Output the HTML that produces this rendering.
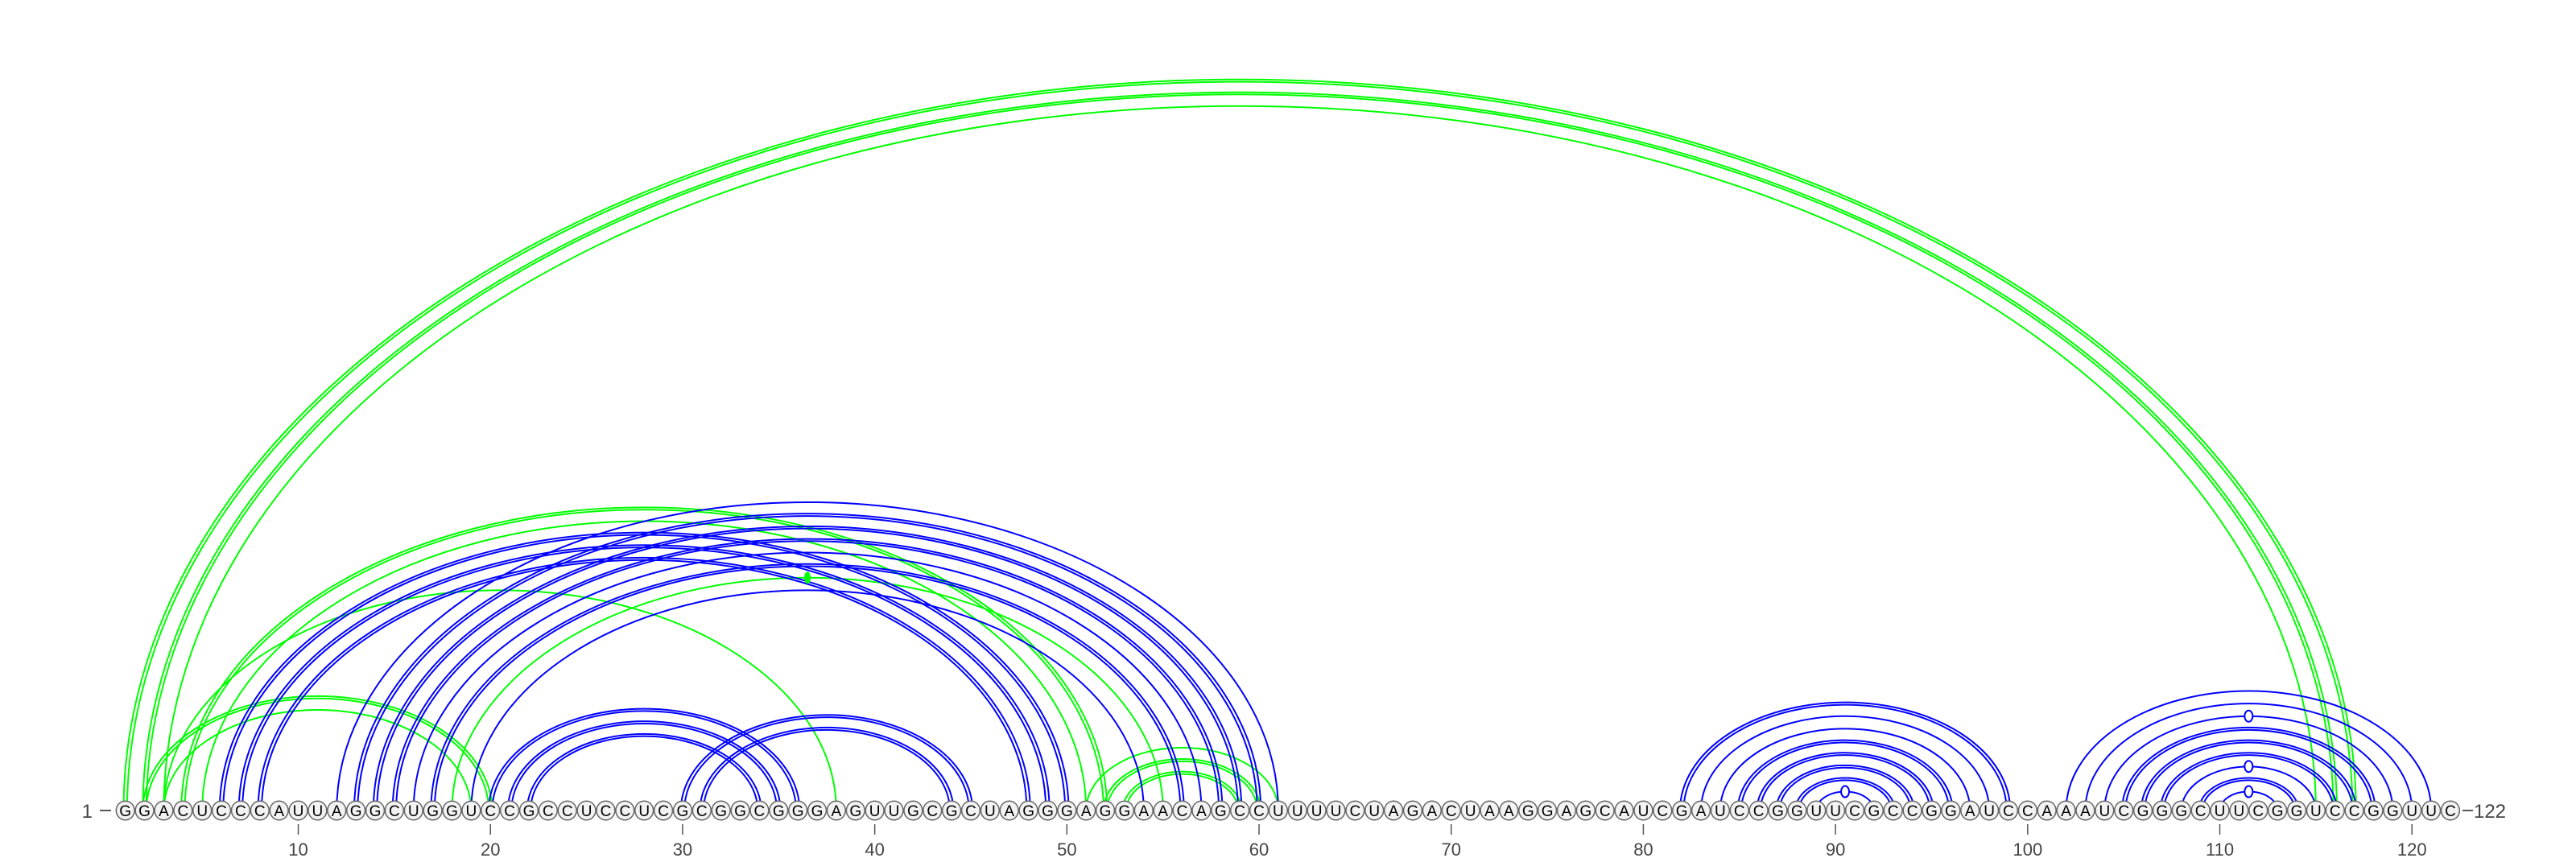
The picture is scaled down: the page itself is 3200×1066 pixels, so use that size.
<!DOCTYPE html>
<html><head><meta charset="utf-8">
<style>
html,body{margin:0;padding:0;background:#fff;}
svg{display:block;}
text{font-family:"Liberation Sans","DejaVu Sans",sans-serif;}
</style></head>
<body>
<svg id="chart" width="3200" height="1066" viewBox="0 0 3200 1066" xmlns="http://www.w3.org/2000/svg">
<g id="arcs"></g>
<g id="markers"></g>
<g id="nts"></g>
<g id="axis"></g>
</svg>
<script>
const sequence = "GGACUCCCAUUAGGCUGGUCCGCCUCCUCGCGGCGGGAGUUGCGCUAGGGAGGAACAGCCUUUUCUAGACUAAGGAGCAUCGAUCCGGUUCGCCGGAUCCAAAUCGGGCUUCGGUCCGGUUC";
// blue structure pairs
const blueI = [6,7,8,12,13,14,15,16,17,19,20,21,22,30,31,82,83,84,85,86,87,88,89,102,103,104,105,106,107,108,109,110];
const blueJ = [50,49,48,61,60,59,58,57,56,54,36,35,34,45,44,99,98,97,96,95,94,93,92,121,120,119,118,117,116,115,114,113];
const blueDouble = [1,1,1,0,1,1,1,0,1,0,1,1,1,1,1,1,0,0,1,1,1,1,0,0,0,0,1,1,1,0,1,0];
// green structure pairs
const greenI = [1,2,3,2,3,3,4,5,18,51,52,53];
const greenJ = [117,116,115,20,19,38,52,51,55,61,60,59];
const greenDouble = [1,1,0,1,0,0,1,0,0,0,1,1];
// marker arcs (apex markers)
const markBlueI = [89,104,108,110];
const markBlueJ = [92,119,115,113];
const markGreenI = [18];
const markGreenJ = [55];
const tickValues = [10,20,30,40,50,60,70,80,90,100,110,120];

const NS = "http://www.w3.org/2000/svg";
const X0 = 155.7, DX = 23.87, YB = 1007, RATIO = 0.655;
const xPos = p => X0 + (p - 1) * DX;
function mk(tag, attrs, parent){
  const e = document.createElementNS(NS, tag);
  for (const k in attrs) e.setAttribute(k, attrs[k]);
  parent.appendChild(e);
  return e;
}
const arcsG = document.getElementById('arcs');
function arcPath(x1, x2){
  const rx = (x2 - x1) / 2, ry = rx * RATIO;
  return `M${x1},${YB} A${rx},${ry} 0 0 1 ${x2},${YB}`;
}
function drawArcs(I, J, D, color, name){
  for (let k = 0; k < I.length; k++){
    const x1 = xPos(I[k]), x2 = xPos(J[k]);
    const offs = D[k] ? [-2.2, 2.2] : [0];
    for (const o of offs){
      const p = mk('path', {d: arcPath(x1 + o, x2 - o), fill: 'none', stroke: color, 'stroke-width': 2}, arcsG);
      
      
    }
  }
}
drawArcs(greenI, greenJ, greenDouble, '#00ff00', 'green');
drawArcs(blueI, blueJ, blueDouble, '#0000ff', 'blue');

const mG = document.getElementById('markers');
for (let k = 0; k < markBlueI.length; k++){
  const x1 = xPos(markBlueI[k]), x2 = xPos(markBlueJ[k]);
  const rx = (x2 - x1) / 2;
  const e = mk('ellipse', {cx: (x1 + x2) / 2, cy: YB - rx * RATIO, rx: 5, ry: 7, fill: '#fff', stroke: '#0000ff', 'stroke-width': 2}, mG);
  
  
}
for (let k = 0; k < markGreenI.length; k++){
  const x1 = xPos(markGreenI[k]), x2 = xPos(markGreenJ[k]);
  const rx = (x2 - x1) / 2;
  const e = mk('ellipse', {cx: (x1 + x2) / 2, cy: YB - rx * RATIO, rx: 3.5, ry: 7, fill: '#00ff00', stroke: '#00ff00', 'stroke-width': 1}, mG);
  
  
}

const ntG = document.getElementById('nts');
for (let i = 0; i < sequence.length; i++){
  const x = xPos(i + 1);
  const g = mk('g', {}, ntG);
  
  
  mk('ellipse', {cx: x, cy: YB, rx: 11.4, ry: 11.8, fill: '#f2f2f2', stroke: '#666', 'stroke-width': 1.5}, g);
  const t = mk('text', {x: x, y: YB + 7, 'text-anchor': 'middle', 'font-size': 19, fill: '#000'}, g);
  t.textContent = sequence[i];
}

const axG = document.getElementById('axis');
for (const v of tickValues){
  const x = xPos(v);
  const l = mk('line', {x1: x, y1: 1024, x2: x, y2: 1037, stroke: '#555', 'stroke-width': 1.5}, axG);
  
  
  const t = mk('text', {x: x, y: 1063, 'text-anchor': 'middle', 'font-size': 22, fill: '#444'}, axG);
  
  
  t.textContent = v;
}
const s = mk('text', {x: 115, y: 1016, 'text-anchor': 'end', 'font-size': 24, fill: '#444'}, axG);


s.textContent = '1';
const sd = mk('line', {x1: 124, y1: 1007, x2: 138, y2: 1007, stroke: '#444', 'stroke-width': 1.8}, axG);


const ed = mk('line', {x1: xPos(sequence.length) + 15, y1: 1007, x2: xPos(sequence.length) + 28, y2: 1007, stroke: '#444', 'stroke-width': 1.8}, axG);


const e2 = mk('text', {x: xPos(sequence.length) + 29, y: 1016, 'text-anchor': 'start', 'font-size': 24, fill: '#444'}, axG);


e2.textContent = '122';
</script>
</body></html>
